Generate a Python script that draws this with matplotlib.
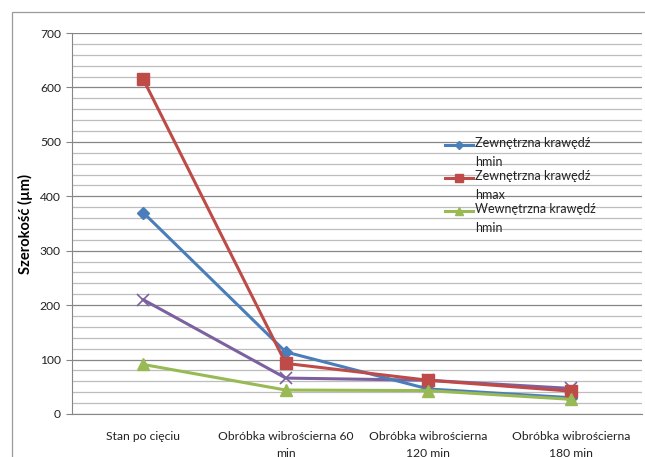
import matplotlib
matplotlib.use("Agg")
import matplotlib.pyplot as plt
from matplotlib.patches import Rectangle
from matplotlib.lines import Line2D
from matplotlib.ticker import MultipleLocator

categories = ["Stan po cięciu", "Obróbka wibrościerna 60\nmin",
              "Obróbka wibrościerna\n120 min", "Obróbka wibrościerna\n180 min"]
outer_hmin = [370, 114, 46, 30]
outer_hmax = [615, 93, 62, 42]
inner_hmin = [91, 44, 43, 27]
inner_hmax = [210, 66, 62, 47]

labels = ["Zewnętrzna krawędź\nhmin", "Zewnętrzna krawędź\nhmax", "Wewnętrzna krawędź\nhmin"]

plt.rcParams['font.family'] = ['Lato', 'DejaVu Sans']

W, H = 645, 457
fig = plt.figure(figsize=(W / 100, H / 100), dpi=100)
fig.patch.set_facecolor('white')

# outer chart frame
fig.patches.append(Rectangle((12 / W, -0.1), 1.2, (H - 12) / H + 0.1, transform=fig.transFigure,
                             fill=False, edgecolor='#9a9a9a', linewidth=0.9))

ax = fig.add_axes([72 / W, 1 - 414 / H, (642 - 72) / W, (414 - 33) / H])
x = list(range(len(categories)))

ax.set_xlim(-0.5, len(categories) - 0.5)
ax.set_ylim(0, 700)
ax.yaxis.set_major_locator(MultipleLocator(100))
ax.yaxis.set_minor_locator(MultipleLocator(20))
ax.grid(which='major', axis='y', color='#868686', linewidth=0.9, zorder=0)
ax.grid(which='minor', axis='y', color='#bdbdbd', linewidth=0.9, zorder=0)
ax.set_axisbelow(True)

for s in ['top', 'right']:
    ax.spines[s].set_visible(False)
ax.spines['left'].set_color('#868686')
ax.spines['bottom'].set_color('#868686')

ax.tick_params(axis='y', which='major', length=4, color='#868686', labelsize=8.7, labelcolor='#222222', pad=4)
ax.tick_params(axis='y', which='minor', length=0)
ax.tick_params(axis='x', length=0, labelsize=8.7, labelcolor='#222222', pad=12)
ax.set_xticks(x)
ax.set_xticklabels(categories, linespacing=1.75)

lw = 2.2
styles = [
    (outer_hmin, '#4a7ebb', 'D', 6, labels[0]),
    (outer_hmax, '#be4b48', 's', 8, labels[1]),
    (inner_hmin, '#98b954', '^', 8, labels[2]),
]
ax.plot(x, inner_hmax, color='#7d60a0', lw=lw, marker='x', markersize=8, markeredgewidth=1.2, zorder=3)
for vals, col, mk, ms, lab in styles:
    ax.plot(x, vals, color=col, lw=lw, marker=mk, markersize=ms, zorder=4 if mk == '^' else 3)

ax.set_ylabel("Szerokość (µm)", fontsize=10.5, fontweight='bold', labelpad=5)

# legend (drawn manually: handle aligned with first text line, as in the reference)
for i, (vals, col, mk, ms, lab) in enumerate(styles):
    yc = 1 - (145 + 33 * i) / H
    fig.add_artist(Line2D([445 / W, 473 / W], [yc, yc], transform=fig.transFigure,
                          color=col, lw=lw))
    fig.add_artist(Line2D([459 / W], [yc], transform=fig.transFigure,
                          color=col, marker=mk, markersize=ms * 0.75, lw=0))
    fig.text(475 / W, 1 - (145 + 33 * i - 8) / H, lab, fontsize=9, color='#222222',
             va='top', linespacing=1.75, transform=fig.transFigure)

fig.savefig("out.png", dpi=100)
